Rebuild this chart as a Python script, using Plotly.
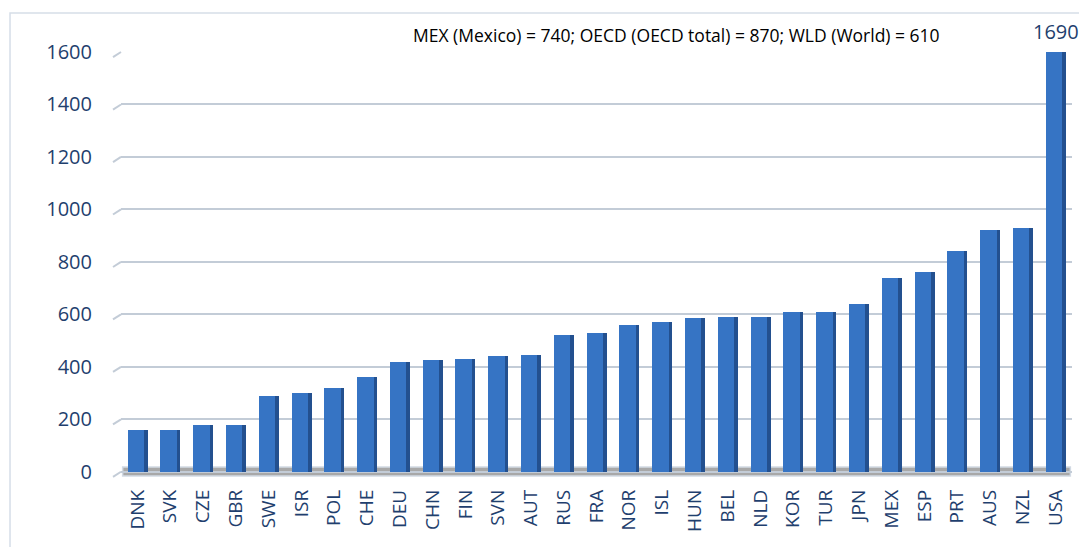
import plotly.graph_objects as go

countries = ["DNK", "SVK", "CZE", "GBR", "SWE", "ISR", "POL", "CHE", "DEU", "CHN",
             "FIN", "SVN", "AUT", "RUS", "FRA", "NOR", "ISL", "HUN", "BEL", "NLD",
             "KOR", "TUR", "JPN", "MEX", "ESP", "PRT", "AUS", "NZL", "USA"]
values = [160, 160, 180, 180, 290, 300, 320, 360, 420, 425,
          430, 440, 445, 520, 530, 560, 570, 585, 590, 590,
          610, 610, 640, 740, 760, 840, 920, 930, 1690]
y_ticks = [0, 200, 400, 600, 800, 1000, 1200, 1400, 1600]
note = "MEX (Mexico) = 740; OECD (OECD total) = 870; WLD (World) = 610"

navy = "#1f3f6e"
grid = "#c3ccd7"
y_range = [-20, 1600]
fig = go.Figure()

# front face of each column
fig.add_trace(go.Bar(x=countries, y=values, width=0.5, offset=-0.3,
                     marker=dict(color="#3674c4", line=dict(width=0)),
                     hoverinfo="x+y"))
# darker side face to fake the 3D look
fig.add_trace(go.Bar(x=countries, y=values, width=0.11, offset=0.2,
                     marker=dict(color="#23508f", line=dict(width=0)),
                     hoverinfo="skip"))

# floor of the 3D plot
fig.add_shape(type="rect", xref="x", yref="y", x0=-0.45, x1=28.45, y0=-16, y1=18,
              fillcolor="#a8a8a8", line=dict(color="#d2dae4", width=1.5), layer="below")

# little slanted stubs at the left end of each gridline
for v in y_ticks:
    yp = (v - y_range[0]) / (y_range[1] - y_range[0])
    fig.add_shape(type="line", xref="paper", yref="paper", x0=-0.0084, x1=0.0,
                  y0=yp - 0.012, y1=yp, line=dict(color=grid, width=2))

# chart frame
fig.add_shape(type="rect", xref="paper", yref="paper", x0=-0.1167, x1=1.0095,
              y0=-0.2, y1=1.092, line=dict(color="#d6dee8", width=1.5))

# label for the clipped USA bar and the note on top
fig.add_annotation(x=countries[-1], xref="x", y=1.011, yref="paper", text=str(values[-1]),
                   showarrow=False, font=dict(size=20, color=navy), yanchor="bottom")
fig.add_annotation(x=0.5846, xref="paper", y=1.008, yref="paper", text=note,
                   showarrow=False, font=dict(size=17.5, color="black"), yanchor="bottom")

# the page puts the figure 8px in from the top-left corner
fig.update_layout(
    width=1079, height=539,
    margin=dict(l=113, r=15, t=44, b=70),
    paper_bgcolor="white", plot_bgcolor="white",
    barmode="overlay", bargap=0, showlegend=False,
    font=dict(family="Open Sans, Liberation Sans, sans-serif", color=navy),
    xaxis=dict(type="category", range=[-0.5, 28.5], showgrid=False, showline=False,
               ticks="", tickangle=-90, tickfont=dict(size=19, color=navy),
               automargin=False, ticklabelstandoff=8),
    yaxis=dict(range=y_range, tickvals=y_ticks, showgrid=True, gridcolor=grid,
               gridwidth=2, zeroline=False, showline=False, ticks="",
               tickfont=dict(size=20, color=navy), automargin=False,
               ticklabelstandoff=28),
)

fig.write_html("out.html")
